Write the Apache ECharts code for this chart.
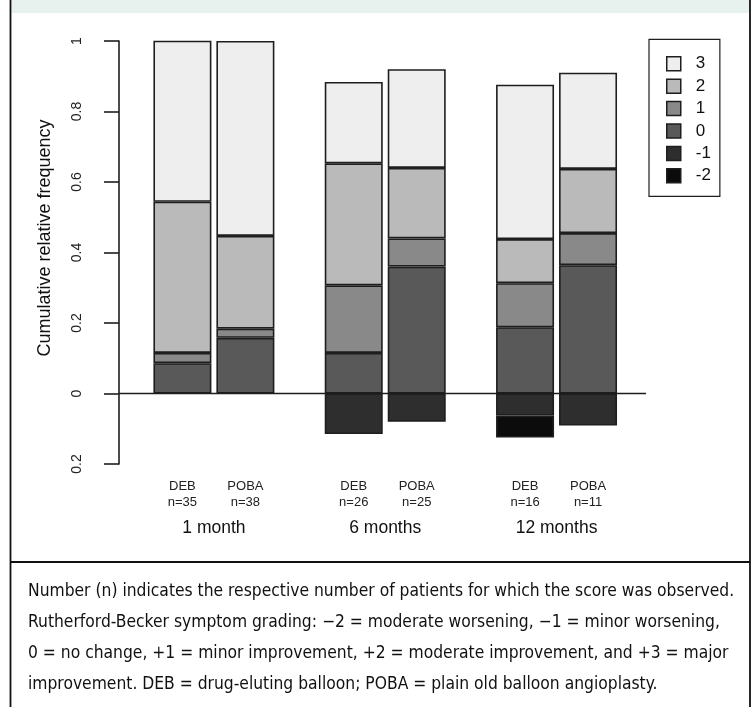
<!DOCTYPE html>
<html>
<head>
<meta charset="utf-8">
<script src="https://cdn.jsdelivr.net/npm/echarts@6/dist/echarts.min.js"></script>
<style>
html,body{margin:0;padding:0;background:#fff;}
#chart{width:756px;height:707px;}
</style>
</head>
<body>
<div id="chart"></div>
<script>
// ---- data ----
const categories = ['1 month', '6 months', '12 months'];
const groupNames = ['DEB', 'POBA'];
const nDEB = [35, 26, 16];
const nPOBA = [38, 25, 11];
const legendLevels = ['3', '2', '1', '0', '-1', '-2'];
const stackOrder = ['0', '1', '2', '3', '-1', '-2'];
const yTitle = 'Cumulative relative frequency';

// relative frequency per score level (DEB / POBA, per time point)
const deb0 = [0.086, 0.115, 0.188];
const poba0 = [0.158, 0.360, 0.364];
const deb1 = [0.029, 0.192, 0.125];
const poba1 = [0.026, 0.080, 0.091];
const deb2 = [0.429, 0.346, 0.125];
const poba2 = [0.263, 0.200, 0.182];
const deb3 = [0.457, 0.231, 0.438];
const poba3 = [0.553, 0.280, 0.273];
const debM1 = [null, -0.115, -0.0625];
const pobaM1 = [null, -0.080, -0.091];
const debM2 = [null, null, -0.0625];
const pobaM2 = [null, null, null];

const yMin = -0.2, yMax = 1, yStep = 0.2;

const captionLines = [
  'Number (n) indicates the respective number of patients for which the score was observed.',
  'Rutherford-Becker symptom grading: \u22122 = moderate worsening, \u22121 = minor worsening,',
  '0 = no change, +1 = minor improvement, +2 = moderate improvement, and +3 = major',
  'improvement. DEB = drug-eluting balloon; POBA = plain old balloon angioplasty.'
];

// ---- styling ----
const levelColors = {'3':'#eeeeee','2':'#bababa','1':'#898989','0':'#595959','-1':'#2e2e2e','-2':'#0c0c0c'};
const dataByLevel = {
  '0': {DEB: deb0, POBA: poba0},
  '1': {DEB: deb1, POBA: poba1},
  '2': {DEB: deb2, POBA: poba2},
  '3': {DEB: deb3, POBA: poba3},
  '-1': {DEB: debM1, POBA: pobaM1},
  '-2': {DEB: debM2, POBA: pobaM2}
};
const ink = '#1e1e1e';
const baseFont = '"Liberation Sans", Arial, sans-serif';

const series = [];
stackOrder.forEach(function (lv) {
  groupNames.forEach(function (g) {
    series.push({
      name: lv,
      type: 'bar',
      stack: g,
      data: dataByLevel[lv][g],
      barWidth: 58,
      barGap: '8.6%',
      clip: false,
      silent: true,
      itemStyle: {color: levelColors[lv], borderColor: ink, borderWidth: 1.6},
      emphasis: {disabled: true}
    });
  });
});

// caption font selection
function fontAvailable(f) {
  const c = document.createElement('canvas').getContext('2d');
  const s = 'abcdefghijklmnopqrstuvwxyz ABCDEFGHIJ 0123456789';
  c.font = '40px monospace'; const w1 = c.measureText(s).width;
  c.font = '40px "' + f + '", monospace'; const w2 = c.measureText(s).width;
  c.font = '40px serif'; const w3 = c.measureText(s).width;
  c.font = '40px "' + f + '", serif'; const w4 = c.measureText(s).width;
  return w1 !== w2 || w3 !== w4;
}
const capCandidates = ['Liberation Sans Narrow', 'DejaVu Sans Condensed', 'Roboto Condensed', 'Noto Sans', 'Liberation Sans'];
let capFamily = 'sans-serif';
for (const f of capCandidates) { if (fontAvailable(f)) { capFamily = '"' + f + '"'; break; } }
const capCtx = document.createElement('canvas').getContext('2d');
capCtx.font = '100px ' + capFamily;
const capWidthAt100 = capCtx.measureText(captionLines[0]).width;
let capSize = 100 * 707 / capWidthAt100;
capSize = Math.min(capSize, 19);

const chart = echarts.init(document.getElementById('chart'), null, {renderer: 'canvas'});

const option = {
  animation: false,
  backgroundColor: '#ffffff',
  grid: {left: 128.25, right: 113.8, top: 41, bottom: 243, containLabel: false},
  legend: {
    data: legendLevels,
    orient: 'vertical',
    left: 649, top: 39.3,
    padding: [16, 9, 12, 17],
    itemWidth: 14, itemHeight: 14, itemGap: 5.4,
    icon: 'rect',
    borderColor: ink, borderWidth: 1.2,
    selectedMode: false,
    itemStyle: {borderColor: ink, borderWidth: 1.5},
    textStyle: {fontFamily: baseFont, fontSize: 17, color: '#111', lineHeight: 14, padding: [0, 0, 0, 10]}
  },
  xAxis: {
    type: 'category',
    data: categories,
    axisLine: {show: false, onZero: false},
    axisTick: {show: false},
    splitLine: {show: false},
    axisLabel: {
      interval: 0,
      margin: 14,
      formatter: function (v, i) {
        return '{a|' + groupNames[0] + '}{g| }{a|' + groupNames[1] + '}\n' +
               '{a|n=' + nDEB[i] + '}{g| }{a|n=' + nPOBA[i] + '}\n' +
               '{m|' + v + '}';
      },
      rich: {
        a: {width: 58, align: 'center', fontSize: 13, lineHeight: 16, fontFamily: baseFont, color: '#222'},
        g: {width: 5, fontSize: 13, lineHeight: 16},
        m: {align: 'center', fontSize: 17.5, lineHeight: 36, fontFamily: baseFont, color: '#111'}
      }
    }
  },
  yAxis: {
    type: 'value',
    min: yMin, max: yMax, interval: yStep,
    offset: 9.25,
    axisLine: {show: true, lineStyle: {color: ink, width: 1.6}},
    axisTick: {show: true, length: 15, lineStyle: {color: ink, width: 1.6}},
    splitLine: {show: false},
    axisLabel: {
      rotate: 90,
      margin: 35,
      fontFamily: baseFont, fontSize: 14, color: '#222',
      formatter: function (v) { return String(parseFloat(Math.abs(v).toFixed(2))); }
    }
  },
  series: series
};
chart.setOption(option);

const y0 = chart.convertToPixel({yAxisIndex: 0}, 0);
const graphics = [
  {type: 'rect', shape: {x: 11.5, y: 0, width: 737.5, height: 13}, style: {fill: '#e7f1ee'}, z: 0, silent: true},
  {type: 'line', shape: {x1: 10.5, y1: 0, x2: 10.5, y2: 707}, style: {stroke: '#111', lineWidth: 1.8}, z: 10, silent: true},
  {type: 'line', shape: {x1: 750, y1: 0, x2: 750, y2: 707}, style: {stroke: '#111', lineWidth: 1.8}, z: 10, silent: true},
  {type: 'line', shape: {x1: 10.5, y1: 562, x2: 750, y2: 562}, style: {stroke: '#111', lineWidth: 1.8}, z: 10, silent: true},
  {type: 'line', shape: {x1: 119, y1: y0, x2: 646, y2: y0}, style: {stroke: ink, lineWidth: 1.5}, z: 100, silent: true},
  {type: 'text', x: 45, y: 238, rotation: Math.PI / 2, silent: true, z: 10,
   style: {text: yTitle, fontFamily: baseFont, fontSize: 18, fill: '#111', align: 'center', verticalAlign: 'middle'}}
];
const capY = [593, 624, 655, 686];
captionLines.forEach(function (t, i) {
  graphics.push({
    type: 'text', left: 28, top: capY[i] - capSize * 0.6, silent: true, z: 10,
    style: {text: t, fontFamily: capFamily, fontSize: capSize, fill: '#111', textVerticalAlign: 'top'}
  });
});
chart.setOption({graphic: graphics});
</script>
</body>
</html>
